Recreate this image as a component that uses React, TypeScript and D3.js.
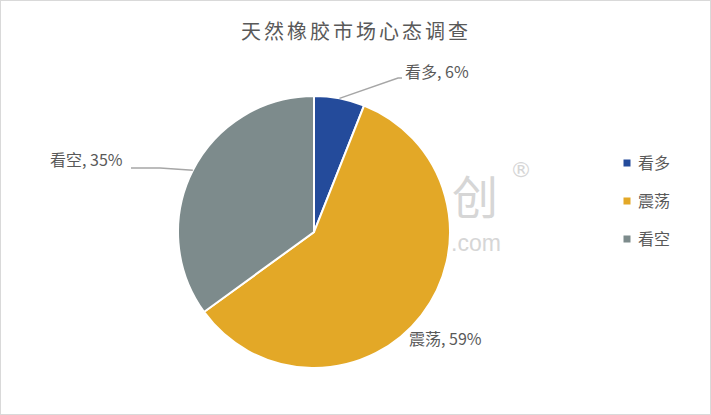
import * as d3 from "d3";

const categories = ["看多", "震荡", "看空"];
const shares = [6, 59, 35];
const colors = ["#244B9B", "#E3A827", "#7D8B8C"];
const title = "天然橡胶市场心态调查";

const W = 711;
const H = 415;
const cx = 314;
const cy = 232;
const R = 136;
const font = "'Noto Sans CJK SC', 'Noto Sans', sans-serif";
const textColor = "#595959";

export default function App() {
  const pie = d3
    .pie<number>()
    .value((d) => d)
    .sort(null);
  const arcs = pie(shares);
  const arc = d3.arc<d3.PieArcDatum<number>>().innerRadius(0).outerRadius(R);

  // slice edge points where the leader lines start
  const edge = arcs.map((a) => {
    const mid = (a.startAngle + a.endAngle) / 2;
    return { x: cx + R * Math.sin(mid), y: cy - R * Math.cos(mid) };
  });

  return (
    <svg
      width={W}
      height={H}
      style={{ position: "absolute", left: 0, top: 0, background: "#fff" }}
      fontFamily={font}
    >
      <rect x={0.5} y={0.5} width={W - 1} height={H - 1} fill="#fff" stroke="#d9d9d9" />
      <text
        x={356}
        y={39}
        textAnchor="middle"
        fontSize={20}
        letterSpacing={3}
        fill={textColor}
      >
        {title}
      </text>

      {/* watermark */}
      <g fill="#d6d6d6">
        <text x={475} y={214} textAnchor="middle" fontSize={46}>
          创
        </text>
        <text x={521} y={177} textAnchor="middle" fontSize={22} fontFamily="'DejaVu Sans', sans-serif">
          ®
        </text>
        <text x={451} y={251} fontSize={23} fontFamily="'Liberation Sans', sans-serif">
          .com
        </text>
      </g>

      <g transform={`translate(${cx},${cy})`}>
        {arcs.map((a, i) => (
          <path key={categories[i]} d={arc(a) ?? ""} fill={colors[i]} stroke="#fff" strokeWidth={2} />
        ))}
      </g>

      {/* leader lines + data labels */}
      <g stroke="#a6a6a6" strokeWidth={1.5} fill="none">
        <polyline points={`${edge[0].x},${edge[0].y} 398,78 402,78`} />
        <polyline points={`${edge[2].x},${edge[2].y} 160,168 131,168`} />
      </g>
      <g fontSize={16} fill={textColor}>
        <text x={405} y={78}>
          {categories[0]}, {shares[0]}%
        </text>
        <text x={409} y={345}>
          {categories[1]}, {shares[1]}%
        </text>
        <text x={50} y={166}>
          {categories[2]}, {shares[2]}%
        </text>
      </g>

      {/* legend */}
      <g fontSize={16} fill={textColor}>
        {categories.map((c, i) => (
          <g key={c} transform={`translate(627,${163 + i * 38})`}>
            <rect x={-3.5} y={-3.5} width={7} height={7} fill={colors[i]} />
            <text x={11} y={6}>
              {c}
            </text>
          </g>
        ))}
      </g>
    </svg>
  );
}
